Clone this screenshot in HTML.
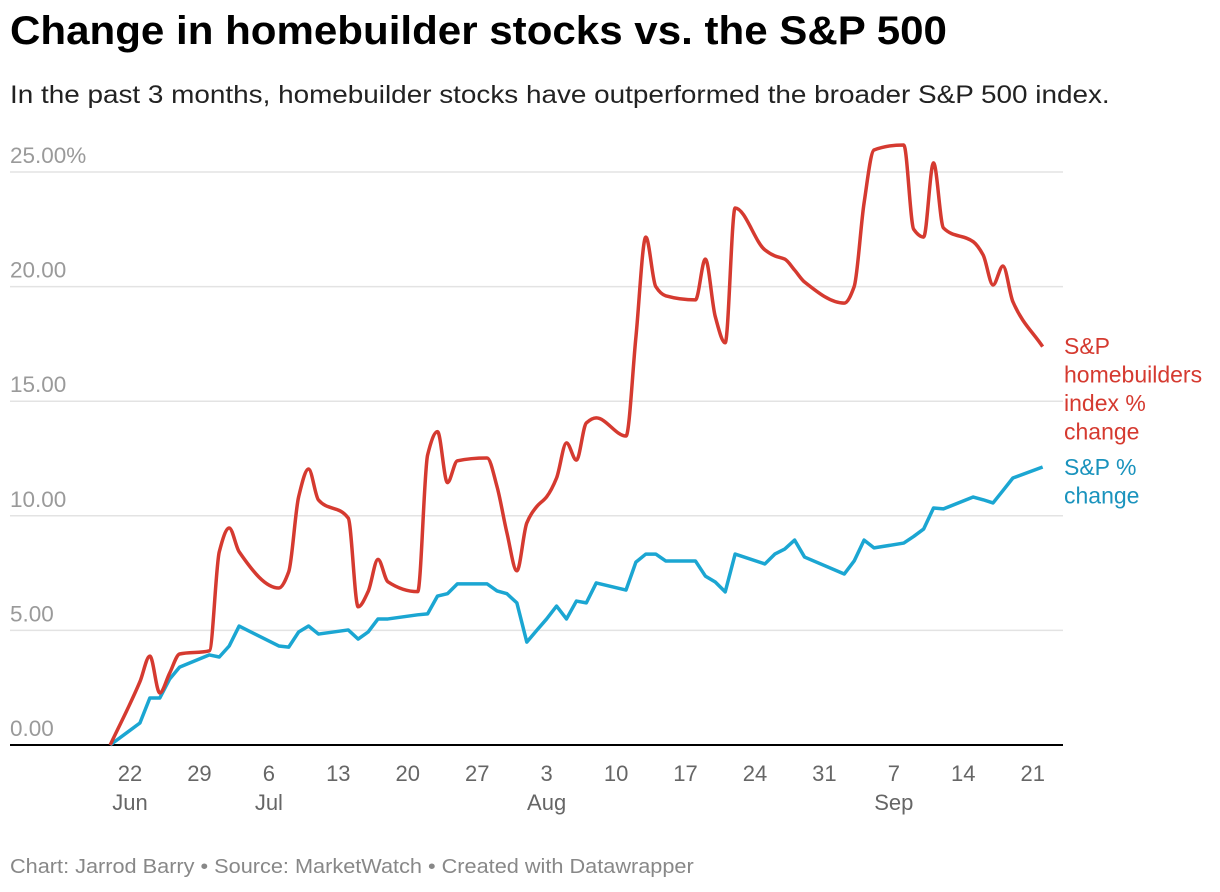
<!DOCTYPE html>
<html><head><meta charset="utf-8">
<style>
body{margin:0;background:#fff;font-family:"Liberation Sans",Arial,sans-serif;}
#wrap{position:relative;width:1220px;height:892px;overflow:hidden;}
h1{position:absolute;left:10px;top:9px;margin:0;font-size:40px;font-weight:bold;color:#000;transform:scaleX(1.052);transform-origin:0 0;white-space:nowrap;}
.sub{position:absolute;left:10px;top:81px;margin:0;font-size:25px;color:#222;transform:scaleX(1.115);transform-origin:0 0;white-space:nowrap;}
.foot{position:absolute;left:10px;top:856px;font-size:20px;color:#888;transform:scaleX(1.085);transform-origin:0 0;white-space:nowrap;}
svg{position:absolute;left:0;top:0;}
</style></head>
<body><div id="wrap">
<h1>Change in homebuilder stocks vs. the S&amp;P 500</h1>
<p class="sub">In the past 3 months, homebuilder stocks have outperformed the broader S&amp;P 500 index.</p>
<svg id="chart" width="1220" height="892"></svg>
<div class="foot">Chart: Jarrod Barry • Source: MarketWatch • Created with Datawrapper</div>
</div>
<script>
// day offsets from Jun 22
const days = [-2,1,2,3,4,5,8,9,10,11,15,16,17,18,19,22,23,24,25,26,29,30,31,32,33,36,37,38,39,40,41,42,43,44,45,46,47,50,51,52,53,54,57,58,59,60,61,64,65,66,67,68,72,73,74,75,78,79,80,81,82,85,86,87,88,89,92];
const homebuilders = [0,2.76,3.88,2.27,3.14,3.97,4.11,8.43,9.47,8.43,6.85,7.56,10.83,12.04,10.69,9.9,6.03,6.69,8.1,7.12,6.69,12.65,13.67,11.45,12.4,12.52,11.27,9.25,7.6,9.69,10.4,10.83,11.65,13.18,12.43,14.05,14.27,13.48,17.8,22.16,20.0,19.6,19.42,21.2,18.69,17.55,23.43,21.6,21.34,21.2,20.72,20.2,19.28,20.0,23.65,25.96,26.18,22.5,22.16,25.4,22.56,21.96,21.38,20.07,20.9,19.34,17.38];
const sp500 = [0,0.96,2.05,2.05,2.88,3.4,3.93,3.84,4.32,5.19,4.32,4.27,4.93,5.19,4.84,5.02,4.62,4.93,5.5,5.5,5.68,5.72,6.5,6.6,7.03,7.03,6.72,6.6,6.2,4.49,5.0,5.5,6.06,5.5,6.28,6.2,7.07,6.76,7.98,8.33,8.33,8.03,8.03,7.37,7.11,6.68,8.33,7.9,8.33,8.55,8.94,8.2,7.46,8.03,8.94,8.6,8.81,9.1,9.42,10.34,10.3,10.82,10.7,10.56,11.1,11.65,12.13];
const yTicks = [0,5,10,15,20,25];
const yTickLabels = ["0.00","5.00","10.00","15.00","20.00","25.00%"];
const xTickDays = [0,7,14,21,28,35,42,49,56,63,70,77,84,91];
const xTickLabels = ["22","29","6","13","20","27","3","10","17","24","31","7","14","21"];
const monthLabels = {0:"Jun",14:"Jul",42:"Aug",77:"Sep"};

const NS="http://www.w3.org/2000/svg";
const svg=document.getElementById('chart');
const X=d=>130+9.92*d;
const Y=v=>745-22.92*v;
function mk(tag,attrs){const e=document.createElementNS(NS,tag);for(const k in attrs)e.setAttribute(k,attrs[k]);svg.appendChild(e);return e;}

yTicks.forEach((t,i)=>{
  const g=mk('line',{x1:10,x2:1063,y1:Y(t),y2:Y(t),stroke:t===0?'#000':'#e3e3e3','stroke-width':t===0?2:1.5});
  
  
  const tx=mk('text',{x:10,y:Y(t)-9,'font-size':22.5,fill:'#9a9a9a'});
  tx.textContent=yTickLabels[i];
  
  
});
xTickDays.forEach((d,i)=>{
  const t=mk('text',{x:X(d),y:781,'font-size':22,fill:'#666','text-anchor':'middle'});
  t.textContent=xTickLabels[i];
  
  
  if(monthLabels[d]!==undefined){
    const m=mk('text',{x:X(d),y:810,'font-size':22,fill:'#666','text-anchor':'middle'});
    m.textContent=monthLabels[d];
    
    
  }
});
function monotone(xs,ys){
  const n=xs.length,dx=[],s=[],m=[];
  for(let i=0;i<n-1;i++){dx.push(xs[i+1]-xs[i]);s.push((ys[i+1]-ys[i])/dx[i]);}
  m[0]=s[0];m[n-1]=s[n-2];
  for(let i=1;i<n-1;i++){
    if(s[i-1]*s[i]<=0)m[i]=0;
    else{const h0=dx[i-1],h1=dx[i];m[i]=3*(h0+h1)/((2*h1+h0)/s[i-1]+(h1+2*h0)/s[i]);}
  }
  let p=`M${xs[0]},${ys[0]}`;
  for(let i=0;i<n-1;i++){const h=dx[i]/3;p+=` C${xs[i]+h},${ys[i]+m[i]*h} ${xs[i+1]-h},${ys[i+1]-m[i+1]*h} ${xs[i+1]},${ys[i+1]}`;}
  return p;
}
const xs=days.map(X);
const bl=mk('polyline',{points:days.map((d,i)=>X(d)+','+Y(sp500[i])).join(' '),fill:'none',stroke:'#1ba6d2','stroke-width':3.5,'stroke-linejoin':'round'});


const rl=mk('path',{d:monotone(xs,homebuilders.map(Y)),fill:'none',stroke:'#d53a30','stroke-width':3.5,'stroke-linejoin':'round'});



function label(lines,y0,color,name){
  lines.forEach((l,i)=>{
    const t=mk('text',{x:1064,y:y0+i*28.5,'font-size':23,fill:color});
    t.textContent=l;
    
    
  });
}
label(["S&P","homebuilders","index %","change"],354,'#d53a30','homebuilders-label');
label(["S&P %","change"],475,'#1a93bd','sp500-label');
</script>
</body></html>
